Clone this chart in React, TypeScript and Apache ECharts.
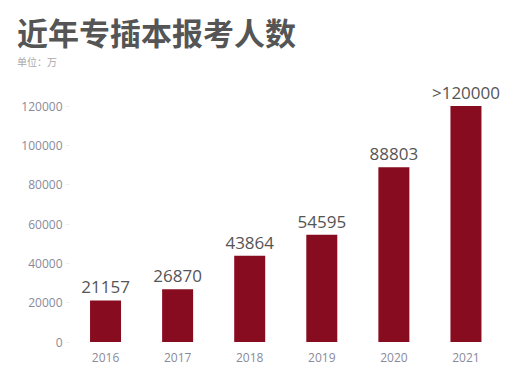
import React, { useEffect, useRef } from "react";
import * as echarts from "echarts";

const years = ["2016", "2017", "2018", "2019", "2020", "2021"];
const applicants = [21157, 26870, 43864, 54595, 88803, 120000];
const barLabels = ["21157", "26870", "43864", "54595", "88803", ">120000"];
const titleText = "近年专插本报考人数";
const unitText = "单位：万";

export default function App() {
  const ref = useRef<HTMLDivElement>(null);
  useEffect(() => {
    const chart = echarts.init(ref.current!, null, { renderer: "svg" });
    chart.setOption({
      animation: false,
      title: [
        {
          text: titleText,
          left: 9,
          top: 6,
          padding: 0,
          textStyle: {
            fontSize: 31,
            lineHeight: 34,
            fontWeight: "bold",
            color: "#555555",
            fontFamily: "Noto Sans CJK SC",
          },
        },
        {
          text: unitText,
          left: 9,
          top: 47,
          padding: 0,
          textStyle: {
            fontSize: 10,
            lineHeight: 12,
            fontWeight: "normal",
            color: "#aaaaaa",
            fontFamily: "Noto Sans CJK SC",
          },
        },
      ],
      grid: { left: 61.5, right: 13, top: 98, bottom: 29, containLabel: false },
      xAxis: {
        type: "category",
        data: years,
        axisLine: { show: false },
        axisTick: { show: false },
        axisLabel: { color: "#8a8a9a", fontSize: 12, margin: 9, fontFamily: "Open Sans" },
      },
      yAxis: {
        type: "value",
        min: 0,
        max: 120000,
        interval: 20000,
        splitLine: { show: false },
        axisLine: { show: false },
        axisTick: { show: true, length: 4, lineStyle: { color: "#eeeeee" } },
        axisLabel: {
          color: "#8a8a9a",
          fontSize: 12,
          margin: 7,
          fontFamily: "Open Sans",
          formatter: (v: number) => String(v),
        },
      },
      series: [
        {
          type: "bar",
          data: applicants,
          barWidth: 31,
          itemStyle: { color: "#870c1f" },
          label: {
            show: true,
            position: "top",
            distance: 5,
            color: "#555555",
            fontSize: 17,
            fontFamily: "Open Sans",
            formatter: (p: any) => barLabels[p.dataIndex],
          },
        },
      ],
    });
    return () => chart.dispose();
  }, []);
  return <div ref={ref} style={{ width: 507, height: 363 }} />;
}
